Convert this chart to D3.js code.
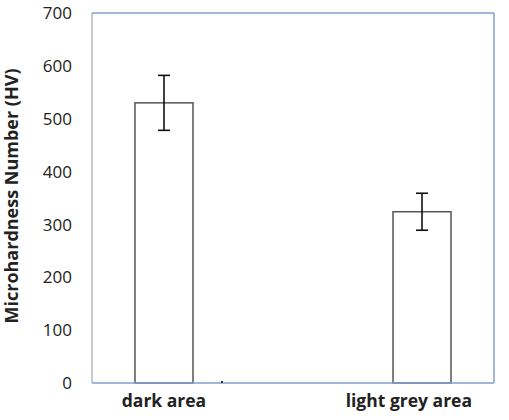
<!DOCTYPE html>
<html lang="en">
<head>
  <meta charset="UTF-8" />
  <title>Microhardness</title>
  <style>
    body { margin: 0; background: #fff; }
    svg text { font-family: 'Open Sans', 'DejaVu Sans', sans-serif; fill: #222; }
  </style>
</head>
<body>
  <div id="chart"></div>
  <script src="https://d3js.org/d3.v7.min.js"></script>
  <script>
    const categories = ["dark area", "light grey area"];
    const hardness = [530, 324];
    const errors = [52, 35];
    const yTicks = [0, 100, 200, 300, 400, 500, 600, 700];

    const width = 509, height = 420;
    const plotLeft = 92, plotRight = 494, plotTop = 13, plotBottom = 383;

    const svg = d3.select("#chart").append("svg")
      .attr("width", width)
      .attr("height", height);

    const x = d3.scalePoint().domain(categories).range([plotLeft, plotRight]).padding(0.279);
    const y = d3.scaleLinear().domain([0, 700]).range([plotBottom, plotTop]);
    const barW = 58;

    // plot frame
    svg.append("line").attr("x1", plotLeft).attr("x2", plotRight).attr("y1", plotTop).attr("y2", plotTop)
       .attr("stroke", "#7f9fcf").attr("stroke-width", 1.5);
    svg.append("line").attr("x1", plotRight).attr("x2", plotRight).attr("y1", plotTop).attr("y2", plotBottom)
       .attr("stroke", "#7f9fcf").attr("stroke-width", 1.5);
    svg.append("line").attr("x1", plotLeft).attr("x2", plotLeft).attr("y1", plotTop).attr("y2", plotBottom)
       .attr("stroke", "#a8a8a8").attr("stroke-width", 1.2);

    // bars
    svg.selectAll(".bar")
      .data(categories)
      .enter()
      .append("rect")
      .attr("class", "bar")
      .attr("x", d => x(d) - barW / 2)
      .attr("width", barW)
      .attr("y", (d, i) => y(hardness[i]))
      .attr("height", (d, i) => y(0) - y(hardness[i]))
      .attr("fill", "#fff")
      .attr("stroke", "#555")
      .attr("stroke-width", 1.5);

    // baseline
    svg.append("line").attr("x1", plotLeft).attr("x2", plotRight).attr("y1", plotBottom).attr("y2", plotBottom)
       .attr("stroke", "#7f9fcf").attr("stroke-width", 1.5);

    // small tick dot
    svg.append("rect").attr("x", (x(categories[0]) + x(categories[1])) / 2 - 72).attr("y", plotBottom - 2)
       .attr("width", 2).attr("height", 2).attr("fill", "#333");

    // error bars
    const err = svg.selectAll(".err")
      .data(categories)
      .enter()
      .append("g")
      .attr("class", "err")
      .attr("stroke", "#111")
      .attr("stroke-width", 1.6);
    err.append("line")
      .attr("x1", d => x(d)).attr("x2", d => x(d))
      .attr("y1", (d, i) => y(hardness[i] + errors[i]))
      .attr("y2", (d, i) => y(hardness[i] - errors[i]));
    err.append("line")
      .attr("x1", d => x(d) - 6).attr("x2", d => x(d) + 6)
      .attr("y1", (d, i) => y(hardness[i] + errors[i]))
      .attr("y2", (d, i) => y(hardness[i] + errors[i]));
    err.append("line")
      .attr("x1", d => x(d) - 6).attr("x2", d => x(d) + 6)
      .attr("y1", (d, i) => y(hardness[i] - errors[i]))
      .attr("y2", (d, i) => y(hardness[i] - errors[i]));

    // y tick labels
    svg.selectAll(".ytick")
      .data(yTicks)
      .enter()
      .append("text")
      .attr("class", "ytick")
      .attr("x", 72)
      .attr("y", d => y(d))
      .attr("dy", "0.36em")
      .attr("text-anchor", "end")
      .style("font-size", "17px")
      .text(d => d);

    // x labels (kept inside the plot's right edge)
    svg.selectAll(".xlab")
      .data(categories)
      .enter()
      .append("text")
      .attr("class", "xlab")
      .attr("y", 407)
      .attr("text-anchor", "middle")
      .style("font-size", "17.5px")
      .style("font-weight", "bold")
      .text(d => d)
      .attr("x", function(d) {
        const half = this.getComputedTextLength() / 2;
        return Math.min(x(d), plotRight - 22 - half);
      });

    // y title
    svg.append("text")
      .attr("transform", "translate(18," + 196 + ") rotate(-90)")
      .attr("text-anchor", "middle")
      .style("font-size", "18px")
      .style("font-weight", "bold")
      .text("Microhardness Number (HV)");
  </script>
</body>
</html>
